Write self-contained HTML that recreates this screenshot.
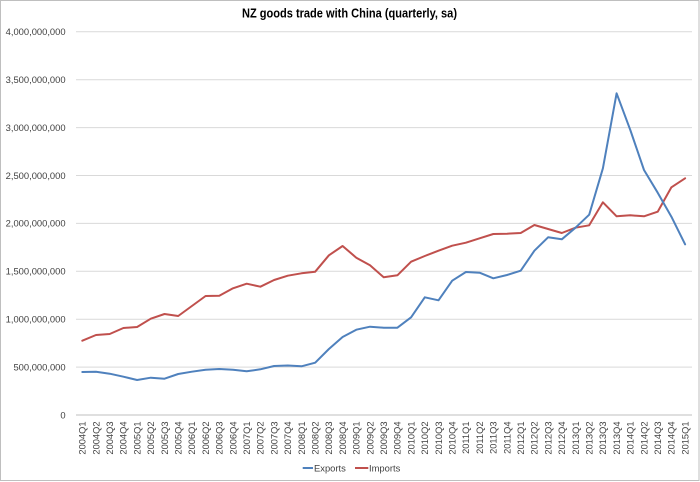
<!DOCTYPE html>
<html>
<head>
<meta charset="utf-8">
<style>
  html, body { margin: 0; padding: 0; background: #fff; }
  body { width: 700px; height: 482px; overflow: hidden; }
  svg { display: block; }
  text { font-family: "Liberation Sans", Arial, sans-serif; fill: #404040; }
</style>
</head>
<body>
<svg width="700" height="482" viewBox="0 0 700 482" xmlns="http://www.w3.org/2000/svg">
  <rect x="0" y="0" width="700" height="482" fill="#fff"/>
  <rect x="0.5" y="0.5" width="698.5" height="480" fill="none" stroke="#BFBFBF" stroke-width="1"/>

  <text x="349.5" y="17.5" text-anchor="middle" font-size="12.5" font-weight="bold" style="fill:#000" textLength="215" lengthAdjust="spacingAndGlyphs">NZ goods trade with China (quarterly, sa)</text>

  <g stroke="#D9D9D9" stroke-width="1">
    <line x1="76" y1="367.1" x2="692" y2="367.1"/>
    <line x1="76" y1="319.2" x2="692" y2="319.2"/>
    <line x1="76" y1="271.3" x2="692" y2="271.3"/>
    <line x1="76" y1="223.4" x2="692" y2="223.4"/>
    <line x1="76" y1="175.5" x2="692" y2="175.5"/>
    <line x1="76" y1="127.6" x2="692" y2="127.6"/>
    <line x1="76" y1="79.7" x2="692" y2="79.7"/>
    <line x1="76" y1="31.8" x2="692" y2="31.8"/>
  </g>
  <line x1="76" y1="415" x2="692" y2="415" stroke="#BFBFBF" stroke-width="1"/>

  <g font-size="9.4" text-anchor="end">
    <text x="65.6" y="418.3">0</text>
    <text x="65.6" y="370.4">500,000,000</text>
    <text x="65.6" y="322.5">1,000,000,000</text>
    <text x="65.6" y="274.6">1,500,000,000</text>
    <text x="65.6" y="226.7">2,000,000,000</text>
    <text x="65.6" y="178.8">2,500,000,000</text>
    <text x="65.6" y="130.9">3,000,000,000</text>
    <text x="65.6" y="83.0">3,500,000,000</text>
    <text x="65.6" y="35.1">4,000,000,000</text>
  </g>

  <g font-size="9.3" text-anchor="end">
    <text transform="translate(85.6,421.5) rotate(-90)">2004Q1</text>
    <text transform="translate(99.3,421.5) rotate(-90)">2004Q2</text>
    <text transform="translate(113.0,421.5) rotate(-90)">2004Q3</text>
    <text transform="translate(126.7,421.5) rotate(-90)">2004Q4</text>
    <text transform="translate(140.4,421.5) rotate(-90)">2005Q1</text>
    <text transform="translate(154.1,421.5) rotate(-90)">2005Q2</text>
    <text transform="translate(167.8,421.5) rotate(-90)">2005Q3</text>
    <text transform="translate(181.5,421.5) rotate(-90)">2005Q4</text>
    <text transform="translate(195.2,421.5) rotate(-90)">2006Q1</text>
    <text transform="translate(208.9,421.5) rotate(-90)">2006Q2</text>
    <text transform="translate(222.6,421.5) rotate(-90)">2006Q3</text>
    <text transform="translate(236.3,421.5) rotate(-90)">2006Q4</text>
    <text transform="translate(250.0,421.5) rotate(-90)">2007Q1</text>
    <text transform="translate(263.7,421.5) rotate(-90)">2007Q2</text>
    <text transform="translate(277.4,421.5) rotate(-90)">2007Q3</text>
    <text transform="translate(291.1,421.5) rotate(-90)">2007Q4</text>
    <text transform="translate(304.8,421.5) rotate(-90)">2008Q1</text>
    <text transform="translate(318.5,421.5) rotate(-90)">2008Q2</text>
    <text transform="translate(332.2,421.5) rotate(-90)">2008Q3</text>
    <text transform="translate(345.9,421.5) rotate(-90)">2008Q4</text>
    <text transform="translate(359.6,421.5) rotate(-90)">2009Q1</text>
    <text transform="translate(373.3,421.5) rotate(-90)">2009Q2</text>
    <text transform="translate(387.0,421.5) rotate(-90)">2009Q3</text>
    <text transform="translate(400.7,421.5) rotate(-90)">2009Q4</text>
    <text transform="translate(414.4,421.5) rotate(-90)">2010Q1</text>
    <text transform="translate(428.1,421.5) rotate(-90)">2010Q2</text>
    <text transform="translate(441.8,421.5) rotate(-90)">2010Q3</text>
    <text transform="translate(455.5,421.5) rotate(-90)">2010Q4</text>
    <text transform="translate(469.2,421.5) rotate(-90)">2011Q1</text>
    <text transform="translate(482.9,421.5) rotate(-90)">2011Q2</text>
    <text transform="translate(496.6,421.5) rotate(-90)">2011Q3</text>
    <text transform="translate(510.3,421.5) rotate(-90)">2011Q4</text>
    <text transform="translate(524.0,421.5) rotate(-90)">2012Q1</text>
    <text transform="translate(537.7,421.5) rotate(-90)">2012Q2</text>
    <text transform="translate(551.4,421.5) rotate(-90)">2012Q3</text>
    <text transform="translate(565.1,421.5) rotate(-90)">2012Q4</text>
    <text transform="translate(578.8,421.5) rotate(-90)">2013Q1</text>
    <text transform="translate(592.5,421.5) rotate(-90)">2013Q2</text>
    <text transform="translate(606.2,421.5) rotate(-90)">2013Q3</text>
    <text transform="translate(619.9,421.5) rotate(-90)">2013Q4</text>
    <text transform="translate(633.6,421.5) rotate(-90)">2014Q1</text>
    <text transform="translate(647.3,421.5) rotate(-90)">2014Q2</text>
    <text transform="translate(661.0,421.5) rotate(-90)">2014Q3</text>
    <text transform="translate(674.7,421.5) rotate(-90)">2014Q4</text>
    <text transform="translate(688.4,421.5) rotate(-90)">2015Q1</text>
  </g>

  <!-- Imports -->
  <polyline fill="none" stroke="#C0504D" stroke-width="2" stroke-linejoin="round" stroke-linecap="round"
    points="82.3,340.7 96.0,335 109.7,334 123.4,328 137.1,327 150.8,318.7 164.5,314 178.2,316 191.9,306 205.6,296 219.3,295.7 233.0,288.3 246.7,283.7 260.4,286.7 274.1,280 287.8,275.7 301.5,273.3 315.2,271.7 328.9,255.3 342.6,246 356.3,257.7 370.0,265.3 383.7,277.3 397.4,275.3 411.1,261.7 424.8,256 438.5,250.7 452.2,245.7 465.9,242.7 479.6,238.3 493.3,234 507.0,233.7 520.7,233 534.4,225 548.1,229 561.8,233 575.5,227.7 589.2,225.3 602.9,202.3 616.6,216.3 630.3,215.3 644.0,216.3 657.7,211.7 671.4,187.3 685.1,178.3"/>

  <!-- Exports -->
  <polyline fill="none" stroke="#4F81BD" stroke-width="2" stroke-linejoin="round" stroke-linecap="round"
    points="82.3,372 96.0,371.7 109.7,373.7 123.4,376.7 137.1,380 150.8,377.7 164.5,378.7 178.2,374 191.9,371.7 205.6,369.7 219.3,369 233.0,369.7 246.7,371.3 260.4,369.3 274.1,366 287.8,365.5 301.5,366.3 315.2,362.7 328.9,349 342.6,337 356.3,329.7 370.0,326.7 383.7,327.7 397.4,327.7 411.1,317.3 424.8,297.3 438.5,300.3 452.2,280.7 465.9,272 479.6,272.7 493.3,278.3 507.0,275 520.7,270.7 534.4,250.7 548.1,237.3 561.8,239.3 575.5,227.7 589.2,214.7 602.9,168.3 616.6,93.3 630.3,130 644.0,170 657.7,192.7 671.4,216.7 685.1,244.3"/>

  <!-- Legend -->
  <line x1="302.7" y1="468" x2="313" y2="468" stroke="#4F81BD" stroke-width="2"/>
  <text x="314" y="471.5" font-size="9.4">Exports</text>
  <line x1="355" y1="468" x2="368.3" y2="468" stroke="#C0504D" stroke-width="2"/>
  <text x="369" y="471.5" font-size="9.4">Imports</text>
</svg>
</body>
</html>
